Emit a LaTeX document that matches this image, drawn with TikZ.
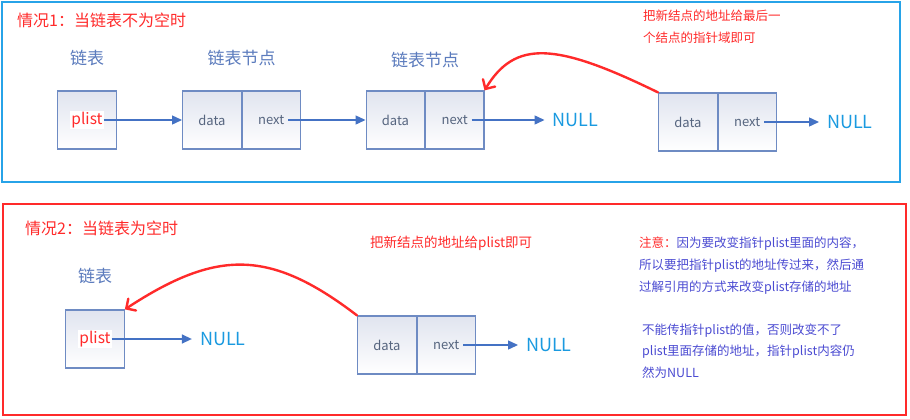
\documentclass[tikz,border=0pt]{standalone}
\usepackage{fontspec}
\setmainfont{Noto Sans CJK SC}
\usepackage{tikz}
\usetikzlibrary{matrix, positioning, arrows.meta}
\usepackage{xcolor}
\definecolor{frameblue}{HTML}{27A3E8}
\definecolor{framered}{HTML}{FF2A2A}
\definecolor{cellline}{HTML}{6E8BC3}
\definecolor{celltop}{HTML}{E0E4EF}
\definecolor{arrowblue}{HTML}{4472C4}
\definecolor{nullblue}{HTML}{1A9AE0}
\definecolor{titleblue}{HTML}{5B7BBD}
\definecolor{textgray}{HTML}{56657F}
\definecolor{noteblue}{HTML}{4B4BD2}

\tikzset{
	cellbox/.style={draw=cellline, line width=1.2pt, top color=celltop, bottom color=white,
		minimum width=58.5pt, minimum height=58pt, text=textgray, font=\fontsize{13}{15}\selectfont},
	plisttext/.style={fill=white, text=framered, inner sep=1pt, font=\fontsize{15.5}{17}\selectfont},
	nulltext/.style={text=nullblue, inner sep=8pt, font=\fontsize{18}{20}\selectfont},
	headtext/.style={text=titleblue, font=\fontsize{17}{19}\selectfont},
	link/.style={draw=arrowblue, line width=1.4pt, -{Triangle[length=10pt,width=9pt]}},
	redarrow/.style={draw=framered, line width=2.4pt, line cap=round,
		-{Straight Barb[angle=90:10pt, line cap=round]}},
}

\begin{document}
\begin{tikzpicture}[x=1pt, y=-1pt]
	\useasboundingbox[fill=white] (0,0) rectangle (910,418);
	\draw[frameblue, line width=2pt] (2,2) rectangle (900,182);
	\draw[framered, line width=2pt] (3,204) rectangle (906,415);

	\node[anchor=west, inner sep=0pt, text=framered, font=\fontsize{16}{18}\selectfont] (case1) at (17,20) {情况1：当链表不为空时};
	\node[anchor=north west, inner sep=0pt, align=left, text=framered, font=\fontsize{12.5}{22}\selectfont] (hint1) at (643,9.5) {把新结点的地址给最后一\\个结点的指针域即可};

	\node[cellbox] (l1) at (87,120) {};
	\node[plisttext] (p1) at (l1) {plist};
	\matrix (n1) at (241.5,120) [matrix of nodes, nodes={cellbox, anchor=center}, column sep=-\pgflinewidth] {
		data & next \\
	};
	\matrix (n2) at (425,120) [matrix of nodes, nodes={cellbox, anchor=center}, column sep=-\pgflinewidth] {
		data & next \\
	};
	\matrix (n3) at (717.5,122) [matrix of nodes, nodes={cellbox, anchor=center}, column sep=-\pgflinewidth] {
		data & next \\
	};
	\node[headtext, above=21pt of l1] (h1) {链表};
	\node[headtext, above=21pt of n1-1-1.north east] (h2) {链表节点};
	\node[headtext, above=19pt of n2-1-1.north east] (h3) {链表节点};
	\node[nulltext, right=60pt of n2-1-2] (z1) {NULL};
	\node[nulltext, right=42pt of n3-1-2] (z2) {NULL};

	\draw[link] (p1.east) -- (n1-1-1.west);
	\draw[link] ([xshift=17pt]n1-1-2.center) -- (n2-1-1.west);
	\draw[link] ([xshift=17pt]n2-1-2.center) -- (z1.west);
	\draw[link] ([xshift=17pt]n3-1-2.center) -- (z2.west);
	\draw[redarrow] (n3-1-1.north west) .. controls (555,42) and (515,40) .. (n2-1-2.north east);

	\node[anchor=west, inner sep=0pt, text=framered, font=\fontsize{16}{18}\selectfont] (case2) at (25,228) {情况2：当链表为空时};
	\node[anchor=west, inner sep=0pt, text=framered, font=\fontsize{13.5}{16}\selectfont] (hint2) at (370,243) {把新结点的地址给plist即可};

	\node[cellbox] (l2) at (95,339) {};
	\node[plisttext] (p2) at (l2) {plist};
	\matrix (n4) at (416.5,345) [matrix of nodes, nodes={cellbox, anchor=center}, column sep=-\pgflinewidth] {
		data & next \\
	};
	\node[headtext, above=22pt of l2] (h4) {链表};
	\node[nulltext, right=67pt of l2] (z3) {NULL};
	\node[nulltext, right=42pt of n4-1-2] (z4) {NULL};

	\draw[link] (p2.east) -- (z3.west);
	\draw[link] ([xshift=17pt]n4-1-2.center) -- (z4.west);
	\draw[redarrow] (n4-1-1.north west) .. controls (270,249) and (217,249) .. (l2.north east);

	\node[anchor=north west, inner sep=0pt, align=left, text=noteblue, font=\fontsize{12.5}{22}\selectfont] (note1) at (639,236.5) {\textcolor{framered}{注意：}因为要改变指针plist里面的内容，\\所以要把指针plist的地址传过来，然后通\\过解引用的方式来改变plist存储的地址};
	\node[anchor=north west, inner sep=0pt, align=left, text=noteblue, font=\fontsize{12.5}{21.5}\selectfont] (note2) at (642,323.5) {不能传指针plist的值，否则改变不了\\plist里面存储的地址，指针plist内容仍\\然为NULL};
\end{tikzpicture}
\end{document}
